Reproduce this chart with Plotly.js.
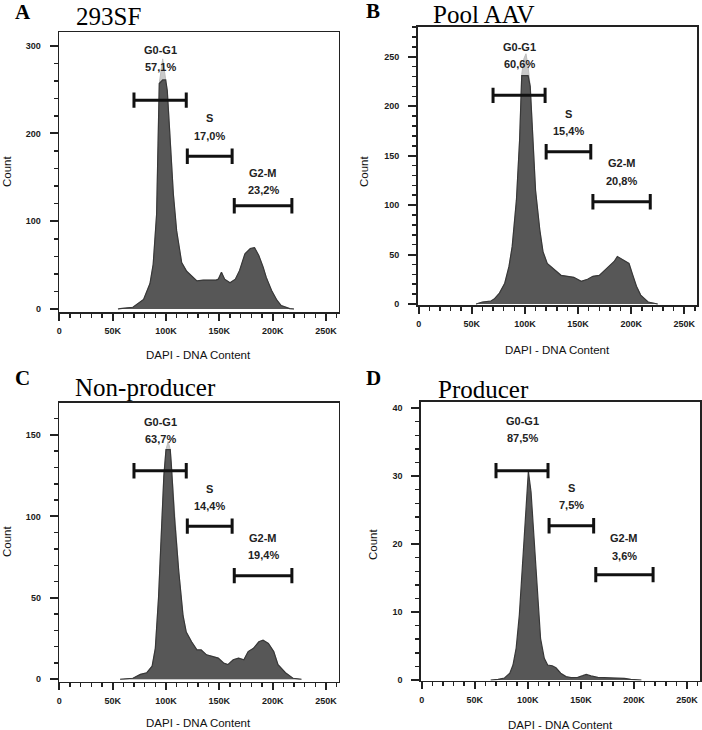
<!DOCTYPE html>
<html>
<head>
<meta charset="utf-8">
<script src="https://cdn.plot.ly/plotly-3.0.1.min.js"></script>
<style>
html,body{margin:0;padding:0;background:#fff;}
#chart{width:702px;height:730px;}
</style>
</head>
<body>
<div id="chart"></div>
<script>
// ---------------- DATA ----------------
// DAPI DNA content (in thousands) and counts
const dnaA = [55,57,69,79,85,88,91.2,93.7,96.9,99.7,101.2,103.7,106.9,110,114.7,119.4,124,129,135,141,147,149,152,155,160,165,169,174,179,183,187,191,194,199,204,208,216,220];
const countA = [0,0.5,2,11,29,51,108,257,285,261,249,200,131,89,53,43,38,32,33,33,33,34,42,34,30,34,44,63,69,70,61,48,36,21,10,4,0.5,0];

const dnaB = [54,60,68,71,76,81,85,88,92,95,97,99,101,103,105,107,110,114,117,121,128,134,140,146,153,159,164,170,175,179,184,187,192,198,201,205,209,216,225];
const countB = [0,2,3,5,11,21,38,58,105,166,232,248,253,240,220,180,115,75,53,41,34,29,28,27,23,25,28,29,34,38,43,48,45,41,31,18,9,2,0];

const dnaC = [57,69,76,82,87,90,93,96,98,100,102,104,105,108,112,116,119,124,129,133,138,144,149,154,158,163,168,173,177,182,187,191,196,201,205,212,219,227];
const countC = [0,0.6,3,4,8,19,50,95,125,141,146,141,132,99,66,39,29,23,18,18,15,14,13,10,9,12,13,12,17,19,23,24,22,17,9,4,0.6,0];

const dnaD = [65,72,78,83,86,89,92,95,98,100.5,103,106,109,112,115.5,118.7,123,126.5,131,136,140.7,147,151.7,155,159.5,166,172,181,191,197,207];
const countD = [0,0.1,0.3,1,2.2,4.7,9.6,17,26,30.7,27.7,20.4,12,6.1,3.2,2.2,2.1,1.8,1.0,0.5,0.35,0.4,0.64,0.83,0.6,0.4,0.35,0.35,0.25,0.1,0];

// gates (thousands)
const gateNames = ['G0-G1','S','G2-M'];
const gateStart = [70,120,164];
const gateEnd = [119,162,218];
const pctA = ['57,1%','17,0%','23,2%'];
const pctB = ['60,6%','15,4%','20,8%'];
const pctC = ['63,7%','14,4%','19,4%'];
const pctD = ['87,5%','7,5%','3,6%'];

const panelLetters = ['A','B','C','D'];
const panelTitles = ['293SF','Pool AAV','Non-producer','Producer'];

const xTickVals = [0,50,100,150,200,250];
const xTickText = ['0','50K','100K','150K','200K','250K'];

// ---------------- LAYOUT CONFIG ----------------
const W = 702, H = 730;
const panels = [
  {dna:dnaA, count:countA, pct:pctA, cap:261,
   px:[59.3,338.5], py:[312,32.3], xr:[0,261700], yr:[-3.4,315.3], dtick:100, minor:20,
   barY:[238,174,117.7], nameY:[295,217.6,155], pctY:[275.7,197,135.6],
   letter:[13,12.5], title:[74,16], countLbl:[7,172], xLbl:355},
  {dna:dnaB, count:countB, pct:pctB, cap:231,
   px:[417.7,697], py:[305,26.7], xr:[-940,262000], yr:[-1,280.4], dtick:50, minor:10,
   barY:[211,154,103.4], nameY:[260,192,142.6], pctY:[243,175,124.7],
   letter:[364,11], title:[431,15], countLbl:[364,172], xLbl:350},
  {dna:dnaC, count:countC, pct:pctC, cap:141,
   px:[59.3,338.5], py:[681.7,402.7], xr:[0,261700], yr:[-1.5,169.8], dtick:50, minor:10,
   barY:[128,94,63.6], nameY:[158,117,87], pctY:[147.5,106.6,76],
   letter:[13,378], title:[73,387], countLbl:[7,542], xLbl:723},
  {dna:dnaD, count:countD, pct:pctD, cap:null,
   px:[421,700], py:[680.7,402], xr:[-660,262200], yr:[-0.1,40.9], dtick:10, minor:2,
   barY:[30.8,22.7,15.5], nameY:[38.1,28.3,20.9], pctY:[35.6,25.7,18.3],
   letter:[364,378], title:[436,389], countLbl:[373,545], xLbl:725}
];

const AX_COLOR = '#222';
const tickFont = {family:'Liberation Sans, Arial, sans-serif', size:9, color:'#1a1a1a', weight:'bold'};
const gateFont = {family:'Liberation Sans, Arial, sans-serif', size:11, color:'#222', weight:'bold'};
const axTitleFont = {family:'Liberation Sans, Arial, sans-serif', size:11.5, color:'#111'};

const data = [];
const layout = {
  width: W, height: H,
  margin: {l:0, r:0, t:0, b:0},
  paper_bgcolor: '#fff', plot_bgcolor: '#fff',
  showlegend: false,
  annotations: [], shapes: []
};

panels.forEach((p, i) => {
  const n = i === 0 ? '' : String(i + 1);
  const xa = 'x' + n, ya = 'y' + n;
  const xs = p.dna.map(v => v * 1000);

  // light tip (full) + dark capped body
  if (p.cap !== null) {
    data.push({type:'scatter', x:xs, y:p.count, xaxis:xa, yaxis:ya, mode:'lines',
      fill:'tozeroy', fillcolor:'#c9c9c9', line:{color:'#bdbdbd', width:1}, hoverinfo:'skip'});
  }
  const body = p.cap !== null ? p.count.map(v => Math.min(v, p.cap)) : p.count;
  data.push({type:'scatter', x:xs, y:body, xaxis:xa, yaxis:ya, mode:'lines',
    fill:'tozeroy', fillcolor:'#575757', line:{color:'#383838', width:1.2}, hoverinfo:'skip'});

  // gate bars
  const gx = [], gy = [];
  gateStart.forEach((s, k) => {
    gx.push(s * 1000, gateEnd[k] * 1000, null);
    gy.push(p.barY[k], p.barY[k], null);
  });
  data.push({type:'scatter', x:gx, y:gy, xaxis:xa, yaxis:ya, mode:'lines+markers',
    line:{color:'#111', width:3}, connectgaps:false,
    marker:{symbol:'line-ns-open', size:11, line:{color:'#111', width:3}}, hoverinfo:'skip'});

  // gate labels
  gateNames.forEach((g, k) => {
    const cx = (gateStart[k] + gateEnd[k]) / 2 * 1000;
    layout.annotations.push({xref:xa, yref:ya, x:cx, y:p.nameY[k], text:g, showarrow:false,
      font:gateFont, xanchor:'center', yanchor:'middle'});
    layout.annotations.push({xref:xa, yref:ya, x:cx, y:p.pctY[k], text:p.pct[k], showarrow:false,
      font:gateFont, xanchor:'center', yanchor:'middle'});
  });

  const xKey = 'xaxis' + n, yKey = 'yaxis' + n;
  layout[xKey] = {
    domain:[p.px[0] / W, p.px[1] / W], anchor:ya, range:p.xr,
    showline:true, mirror:true, linecolor:AX_COLOR, linewidth:1.6,
    showgrid:false, zeroline:false, fixedrange:true,
    ticks:'outside', ticklen:7, tickwidth:2, tickcolor:AX_COLOR,
    tickmode:'array', tickvals:xTickVals.map(v => v * 1000), ticktext:xTickText,
    tickfont:tickFont, ticklabelstandoff:3,
    minor:{dtick:10000, tick0:0, ticks:'outside', ticklen:4, tickwidth:1.5, tickcolor:AX_COLOR, showgrid:false}
  };
  layout[yKey] = {
    domain:[1 - p.py[0] / H, 1 - p.py[1] / H], anchor:xa, range:p.yr,
    showline:true, mirror:true, linecolor:AX_COLOR, linewidth:1.6,
    showgrid:false, zeroline:false, fixedrange:true,
    ticks:'outside', ticklen:8, tickwidth:2, tickcolor:AX_COLOR,
    tick0:0, dtick:p.dtick, tickfont:tickFont, ticklabelstandoff:7,
    minor:{dtick:p.minor, tick0:0, ticks:'outside', ticklen:4, tickwidth:1.5, tickcolor:AX_COLOR, showgrid:false}
  };

  // panel letter and title
  layout.annotations.push({xref:'paper', yref:'paper', x:p.letter[0] / W, y:1 - p.letter[1] / H,
    text:'<b>' + panelLetters[i] + '</b>', showarrow:false, xanchor:'left', yanchor:'middle',
    font:{family:'Liberation Serif, Times New Roman, serif', size:21, color:'#000'}});
  layout.annotations.push({xref:'paper', yref:'paper', x:p.title[0] / W, y:1 - p.title[1] / H,
    text:panelTitles[i], showarrow:false, xanchor:'left', yanchor:'middle',
    font:{family:'Liberation Serif, Times New Roman, serif', size:25, color:'#000'}});

  // axis titles
  layout.annotations.push({xref:'paper', yref:'paper', x:p.countLbl[0] / W, y:1 - p.countLbl[1] / H,
    text:'Count', textangle:-90, showarrow:false, xanchor:'center', yanchor:'middle', font:axTitleFont});
  layout.annotations.push({xref:'paper', yref:'paper', x:(p.px[0] + p.px[1]) / 2 / W, y:1 - p.xLbl / H,
    text:'DAPI - DNA Content', showarrow:false, xanchor:'center', yanchor:'middle', font:axTitleFont});
});

Plotly.newPlot('chart', data, layout, {staticPlot:true, displayModeBar:false});
</script>
</body>
</html>
